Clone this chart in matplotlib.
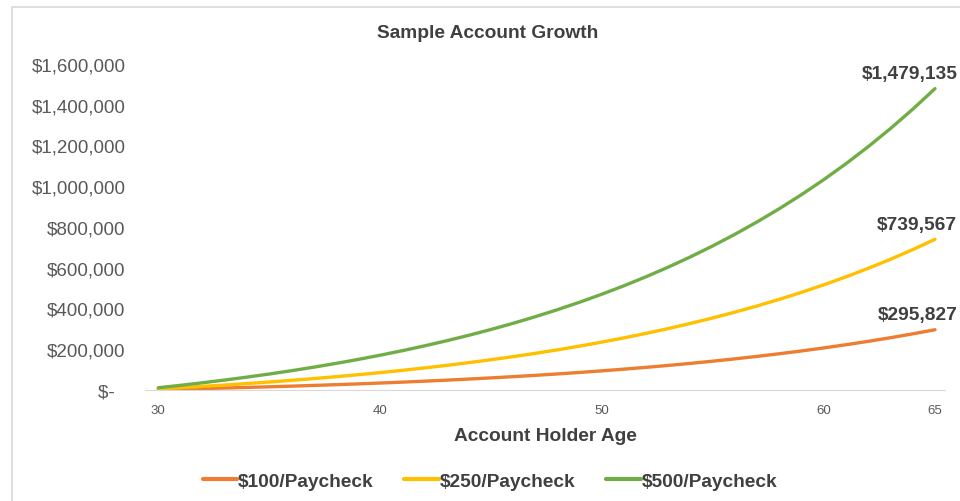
import matplotlib
matplotlib.use("Agg")
from matplotlib import pyplot as plt
from matplotlib.patches import Rectangle
from matplotlib.ticker import FuncFormatter

plt.rcParams['font.family'] = ['Liberation Sans', 'DejaVu Sans']

# account holder age
ages = list(range(30, 66))
# balances (dollars)
pay100 = [2223, 4590, 7111, 9796, 12655, 15700, 18944, 22398, 26076, 29994,
          34166, 38609, 43342, 48382, 53749, 59465, 65553, 72037, 78942, 86296,
          94128, 102469, 111352, 120813, 130888, 141619, 153047, 165217, 178179, 191984,
          206685, 222343, 239017, 256776, 275689, 295827]
pay250 = [5557, 11475, 17777, 24490, 31638, 39251, 47359, 55994, 65190, 74984,
          85415, 96524, 108355, 120954, 134373, 148664, 163884, 180093, 197356, 215741,
          235320, 256173, 278381, 302033, 327221, 354047, 382617, 413044, 445448, 479959,
          516714, 555857, 597544, 641940, 689223, 739567]
pay500 = [11113, 22949, 35554, 48979, 63275, 78502, 94718, 111988, 130379, 149968,
          170829, 193047, 216710, 241908, 268745, 297327, 327767, 360186, 394711, 431481,
          470640, 512346, 556762, 604066, 654442, 708094, 765234, 826087, 890896, 959918,
          1033427, 1111713, 1195087, 1283880, 1378446, 1479135]
series_names = ['$100/Paycheck', '$250/Paycheck', '$500/Paycheck']
colors = ['#ED7D31', '#FFC000', '#70AD47']
end_labels = ['$295,827', '$739,567', '$1,479,135']
xticks = [30, 40, 50, 60, 65]
yticks = [0, 200000, 400000, 600000, 800000, 1000000, 1200000, 1400000, 1600000]

fig = plt.figure(figsize=(9.6, 5.02), dpi=100)
fig.patches.append(Rectangle((12/960, -0.1), 1.0, 1.1 - 8/502, transform=fig.transFigure,
                             fill=False, edgecolor='#d9d9d9', lw=1.2))

ax = fig.add_axes([145/960, (502-391)/502, 800/960, 326/502])
for vals, name, c, lab in zip([pay100, pay250, pay500], series_names, colors, end_labels):
    ax.plot(ages, vals, color=c, lw=2.4, label=name, solid_capstyle='round')
    ax.annotate(lab, (ages[-1], vals[-1]), xytext=(16, 11), textcoords='offset points',
                ha='right', va='center', fontsize=13.8, fontweight='bold', color='#404040',
                annotation_clip=False)

ax.set_xlim(29.4, 65.45)
ax.set_ylim(0, 1600000)
ax.set_xticks(xticks)
ax.set_yticks(yticks)
ax.yaxis.set_major_formatter(FuncFormatter(lambda v, p: '$-  ' if v == 0 else '${:,.0f}'.format(v)))
ax.tick_params(axis='y', length=0, pad=14, labelsize=13.5, labelcolor='#595959')
ax.tick_params(axis='x', length=0, pad=10, labelsize=9.5, labelcolor='#595959')
for s in ['top', 'right', 'left']:
    ax.spines[s].set_visible(False)
ax.spines['bottom'].set_color('#d9d9d9')
ax.set_xlabel('Account Holder Age', fontsize=13.8, fontweight='bold', color='#404040', labelpad=8)

fig.text(488/960, 1 - 34/502, 'Sample Account Growth', ha='center', va='center',
         fontsize=13.8, fontweight='bold', color='#404040')

leg = fig.legend(loc='center', bbox_to_anchor=(490/960, 1 - 482/502), ncol=3, frameon=False,
                 handlelength=1.8, handletextpad=0.05, columnspacing=1.6,
                 prop={'size': 13.8, 'weight': 'bold'})
for t in leg.get_texts():
    t.set_color('#404040')
for h in leg.get_lines():
    h.set_linewidth(3)

plt.savefig('out.png', dpi=100)
